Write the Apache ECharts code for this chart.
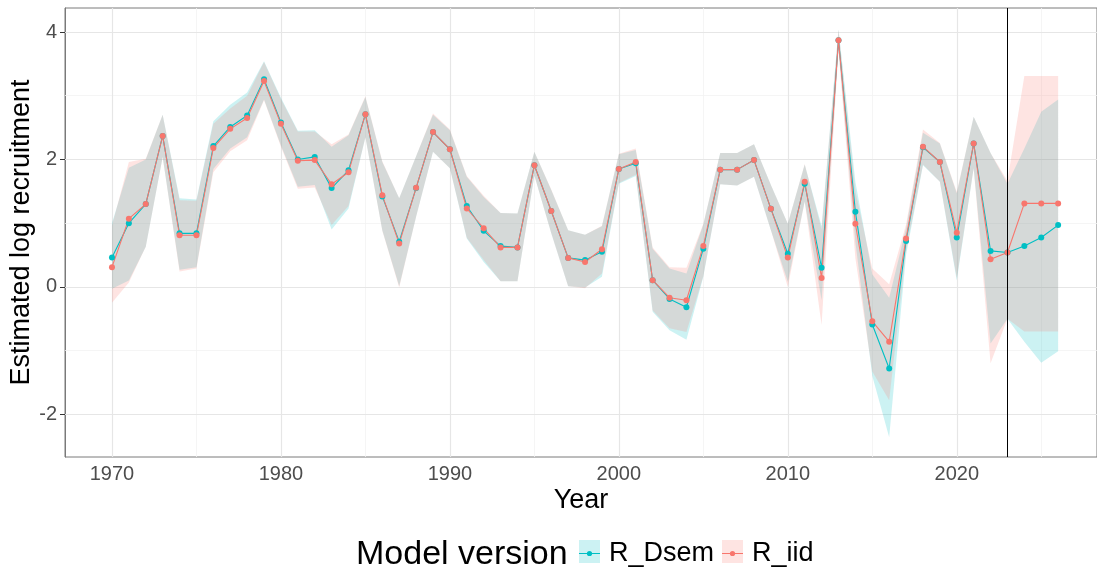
<!DOCTYPE html>
<html>
<head>
<meta charset="utf-8">
<title>Estimated log recruitment</title>
<script src="https://cdn.jsdelivr.net/npm/echarts@6/dist/echarts.min.js"></script>
<style>
  html, body { margin: 0; padding: 0; background: #fff; }
  #chart { width: 1097px; height: 570px; }
</style>
</head>
<body>
<div id="chart"></div>
<script>
// Recruitment estimates by year for the two model versions, with interval bounds.
const years = [
  1970, 1971, 1972, 1973, 1974, 1975, 1976, 1977, 1978, 1979,
  1980, 1981, 1982, 1983, 1984, 1985, 1986, 1987, 1988, 1989,
  1990, 1991, 1992, 1993, 1994, 1995, 1996, 1997, 1998, 1999,
  2000, 2001, 2002, 2003, 2004, 2005, 2006, 2007, 2008, 2009,
  2010, 2011, 2012, 2013, 2014, 2015, 2016, 2017, 2018, 2019,
  2020, 2021, 2022, 2023, 2024, 2025, 2026
];

const dsemEst = [
  0.46, 1.00, 1.30, 2.37, 0.84, 0.84, 2.21, 2.51, 2.69, 3.26,
  2.58, 2.00, 2.04, 1.55, 1.83, 2.71, 1.42, 0.71, 1.55, 2.43,
  2.16, 1.27, 0.88, 0.64, 0.62, 1.91, 1.19, 0.455, 0.42, 0.55,
  1.85, 1.94, 0.105, -0.19, -0.32, 0.60, 1.84, 1.84, 1.99, 1.225,
  0.52, 1.62, 0.30, 3.87, 1.18, -0.59, -1.28, 0.72, 2.19, 1.96,
  0.775, 2.25, 0.565, 0.54, 0.64, 0.775, 0.97
];
const dsemLower = [
  -0.03, 0.10, 0.63, 2.04, 0.27, 0.31, 1.85, 2.17, 2.35, 2.94,
  2.22, 1.57, 1.60, 0.90, 1.23, 2.35, 0.89, 0.01, 1.10, 2.12,
  1.86, 0.76, 0.39, 0.09, 0.09, 1.75, 0.84, 0.01, -0.01, 0.16,
  1.62, 1.74, -0.39, -0.68, -0.83, 0.16, 1.61, 1.59, 1.73, 0.89,
  0.08, 1.34, -0.21, 3.72, 0.70, -1.40, -2.36, 0.50, 1.91, 1.65,
  0.10, 1.86, -0.89, -0.50, -0.86, -1.19, -1.01
];
const dsemUpper = [
  1.00, 1.87, 2.00, 2.70, 1.39, 1.37, 2.60, 2.86, 3.05, 3.54,
  2.97, 2.45, 2.46, 2.20, 2.38, 2.98, 1.96, 1.39, 2.05, 2.70,
  2.46, 1.73, 1.41, 1.16, 1.15, 2.12, 1.52, 0.89, 0.82, 0.95,
  2.08, 2.15, 0.60, 0.29, 0.21, 0.98, 2.10, 2.10, 2.24, 1.60,
  0.99, 1.92, 0.95, 4.04, 1.65, 0.20, -0.17, 0.92, 2.42, 2.25,
  1.47, 2.67, 2.10, 1.62, 2.17, 2.75, 2.94
];

const iidEst = [
  0.31, 1.07, 1.30, 2.37, 0.81, 0.81, 2.18, 2.48, 2.65, 3.23,
  2.56, 1.98, 1.99, 1.61, 1.80, 2.71, 1.44, 0.68, 1.555, 2.43,
  2.16, 1.23, 0.92, 0.62, 0.62, 1.91, 1.19, 0.455, 0.39, 0.59,
  1.85, 1.96, 0.105, -0.17, -0.21, 0.64, 1.84, 1.84, 1.99, 1.225,
  0.46, 1.65, 0.14, 3.87, 0.99, -0.54, -0.86, 0.76, 2.20, 1.96,
  0.85, 2.25, 0.435, 0.54, 1.31, 1.31, 1.31
];
const iidLower = [
  -0.25, 0.07, 0.63, 2.04, 0.24, 0.29, 1.80, 2.13, 2.30, 2.93,
  2.20, 1.54, 1.56, 0.97, 1.27, 2.35, 0.88, -0.01, 1.10, 2.12,
  1.86, 0.77, 0.42, 0.09, 0.09, 1.75, 0.84, 0.01, -0.02, 0.21,
  1.63, 1.76, -0.37, -0.65, -0.71, 0.17, 1.61, 1.59, 1.73, 0.89,
  0.00, 1.34, -0.60, 3.72, 0.45, -1.33, -1.78, 0.57, 1.92, 1.65,
  0.14, 1.86, -1.20, -0.50, -0.70, -0.70, -0.70
];
const iidUpper = [
  0.96, 1.96, 2.01, 2.70, 1.36, 1.35, 2.56, 2.80, 3.00, 3.53,
  2.95, 2.44, 2.44, 2.24, 2.39, 2.99, 1.97, 1.39, 2.05, 2.72,
  2.47, 1.74, 1.43, 1.16, 1.15, 2.12, 1.53, 0.89, 0.82, 0.96,
  2.09, 2.17, 0.62, 0.31, 0.30, 0.99, 2.10, 2.10, 2.24, 1.60,
  0.99, 1.93, 0.90, 4.04, 1.50, 0.29, 0.04, 0.98, 2.47, 2.26,
  1.49, 2.67, 2.10, 1.66, 3.31, 3.31, 3.31
];

// Axis ticks and gridlines
const xMajorTicks = [1970, 1980, 1990, 2000, 2010, 2020];
const xMinorTicks = [1975, 1985, 1995, 2005, 2015, 2025];
const yMajorTicks = [-2, 0, 2, 4];
const yMinorTicks = [-1, 1, 3];
const forecastStart = 2023;

const seriesNames = ['R_Dsem', 'R_iid'];
const seriesColors = ['#00BFC4', '#F8766D'];
const bandColors = ['rgba(0,191,196,0.2)', 'rgba(248,118,109,0.2)'];

const FONT = '"Liberation Sans", Arial, Helvetica, sans-serif';

function bandSeries(name, lower, upper, fill) {
  return {
    type: 'custom',
    name: name + ' interval',
    silent: true,
    z: 2,
    clip: true,
    data: years.map((y, i) => [y, lower[i], upper[i]]),
    encode: { x: 0, y: [1, 2] },
    renderItem: function (params, api) {
      if (params.dataIndex !== 0) return;
      const pts = [];
      for (let i = 0; i < years.length; i++) pts.push(api.coord([years[i], upper[i]]));
      for (let i = years.length - 1; i >= 0; i--) pts.push(api.coord([years[i], lower[i]]));
      return { type: 'polygon', shape: { points: pts }, style: { fill: fill, stroke: null } };
    }
  };
}

function lineSeries(name, values, color) {
  return {
    type: 'line',
    name: name,
    z: 3,
    data: years.map((y, i) => [y, values[i]]),
    symbol: 'circle',
    symbolSize: 6,
    showSymbol: true,
    lineStyle: { color: color, width: 1.1 },
    itemStyle: { color: color },
    emphasis: { disabled: true }
  };
}

function gridLine(axis, value, major) {
  const item = { lineStyle: { color: major ? '#e6e6e6' : '#f2f2f2', width: major ? 1.2 : 0.8, type: 'solid' } };
  item[axis] = value;
  return item;
}

const gridMarks = []
  .concat(xMinorTicks.map(v => gridLine('xAxis', v, false)))
  .concat(yMinorTicks.map(v => gridLine('yAxis', v, false)))
  .concat(xMajorTicks.map(v => gridLine('xAxis', v, true)))
  .concat(yMajorTicks.map(v => gridLine('yAxis', v, true)));

const legendIcon = 'path://M0,10.9 L21,10.9 L21,12.1 L0,12.1 Z M13.1,11.5 A2.6,2.6 0 1 1 7.9,11.5 A2.6,2.6 0 1 1 13.1,11.5 Z';

const chart = echarts.init(document.getElementById('chart'), null, { renderer: 'canvas' });

chart.setOption({
  animation: false,
  backgroundColor: '#ffffff',
  textStyle: { fontFamily: FONT },
  grid: {
    left: 65, top: 8, right: 0, bottom: 113,
    containLabel: false,
    outerBoundsMode: 'none',
    show: true, borderColor: '#7a7a7a', borderWidth: 1, backgroundColor: 'transparent'
  },
  title: {
    text: 'Model version',
    left: 356, top: 538, padding: 0,
    textStyle: { fontFamily: FONT, fontSize: 34, fontWeight: 'normal', color: '#000' }
  },
  legend: [
    {
      data: [{ name: seriesNames[0], icon: legendIcon }],
      left: 579, top: 540, padding: 0,
      itemWidth: 21, itemHeight: 23,
      selectedMode: false,
      textStyle: { fontFamily: FONT, fontSize: 27, color: '#000', padding: [2, 0, 0, 4] }
    },
    {
      data: [{ name: seriesNames[1], icon: legendIcon }],
      left: 722, top: 540, padding: 0,
      itemWidth: 21, itemHeight: 23,
      selectedMode: false,
      textStyle: { fontFamily: FONT, fontSize: 27, color: '#000', padding: [2, 0, 0, 4] }
    }
  ],
  graphic: [
    { type: 'rect', left: 579, top: 540, z: 1, silent: true, shape: { width: 21, height: 23 }, style: { fill: bandColors[0] } },
    { type: 'rect', left: 722, top: 540, z: 1, silent: true, shape: { width: 21, height: 23 }, style: { fill: bandColors[1] } }
  ],
  xAxis: {
    type: 'value',
    min: 1967.22, max: 2028.3,
    name: 'Year',
    nameLocation: 'middle',
    nameGap: 30,
    nameMoveOverlap: false,
    nameTextStyle: { fontFamily: FONT, fontSize: 27, color: '#000' },
    axisLine: { show: true, lineStyle: { color: '#333', width: 1 } },
    axisTick: { show: true, length: 5, customValues: xMajorTicks, lineStyle: { color: '#333' } },
    axisLabel: {
      customValues: xMajorTicks, margin: 7, fontSize: 20, color: '#4d4d4d', fontFamily: FONT,
      formatter: v => String(v)
    },
    splitLine: { show: false },
    minorSplitLine: { show: false }
  },
  yAxis: {
    type: 'value',
    min: -2.67, max: 4.377,
    name: 'Estimated log recruitment',
    nameLocation: 'middle',
    nameRotate: 90,
    nameGap: 30,
    nameMoveOverlap: false,
    nameTextStyle: { fontFamily: FONT, fontSize: 27, color: '#000' },
    axisLine: { show: true, lineStyle: { color: '#7a7a7a', width: 1 } },
    axisTick: { show: true, length: 5, customValues: yMajorTicks, lineStyle: { color: '#333' } },
    axisLabel: {
      customValues: yMajorTicks, margin: 8, fontSize: 20, color: '#4d4d4d', fontFamily: FONT,
      formatter: v => String(v)
    },
    splitLine: { show: false },
    minorSplitLine: { show: false }
  },
  series: [
    {
      type: 'line',
      name: 'gridlines',
      data: [],
      z: 1,
      silent: true,
      markLine: {
        z: 1,
        silent: true,
        symbol: ['none', 'none'],
        label: { show: false },
        emphasis: { disabled: true },
        data: gridMarks
      }
    },
    bandSeries(seriesNames[0], dsemLower, dsemUpper, bandColors[0]),
    bandSeries(seriesNames[1], iidLower, iidUpper, bandColors[1]),
    lineSeries(seriesNames[0], dsemEst, seriesColors[0]),
    Object.assign(lineSeries(seriesNames[1], iidEst, seriesColors[1]), {
      markLine: {
        silent: true,
        symbol: ['none', 'none'],
        label: { show: false },
        emphasis: { disabled: true },
        lineStyle: { color: '#000', width: 1, type: 'solid' },
        data: [{ xAxis: forecastStart }]
      }
    })
  ]
});
</script>
</body>
</html>
